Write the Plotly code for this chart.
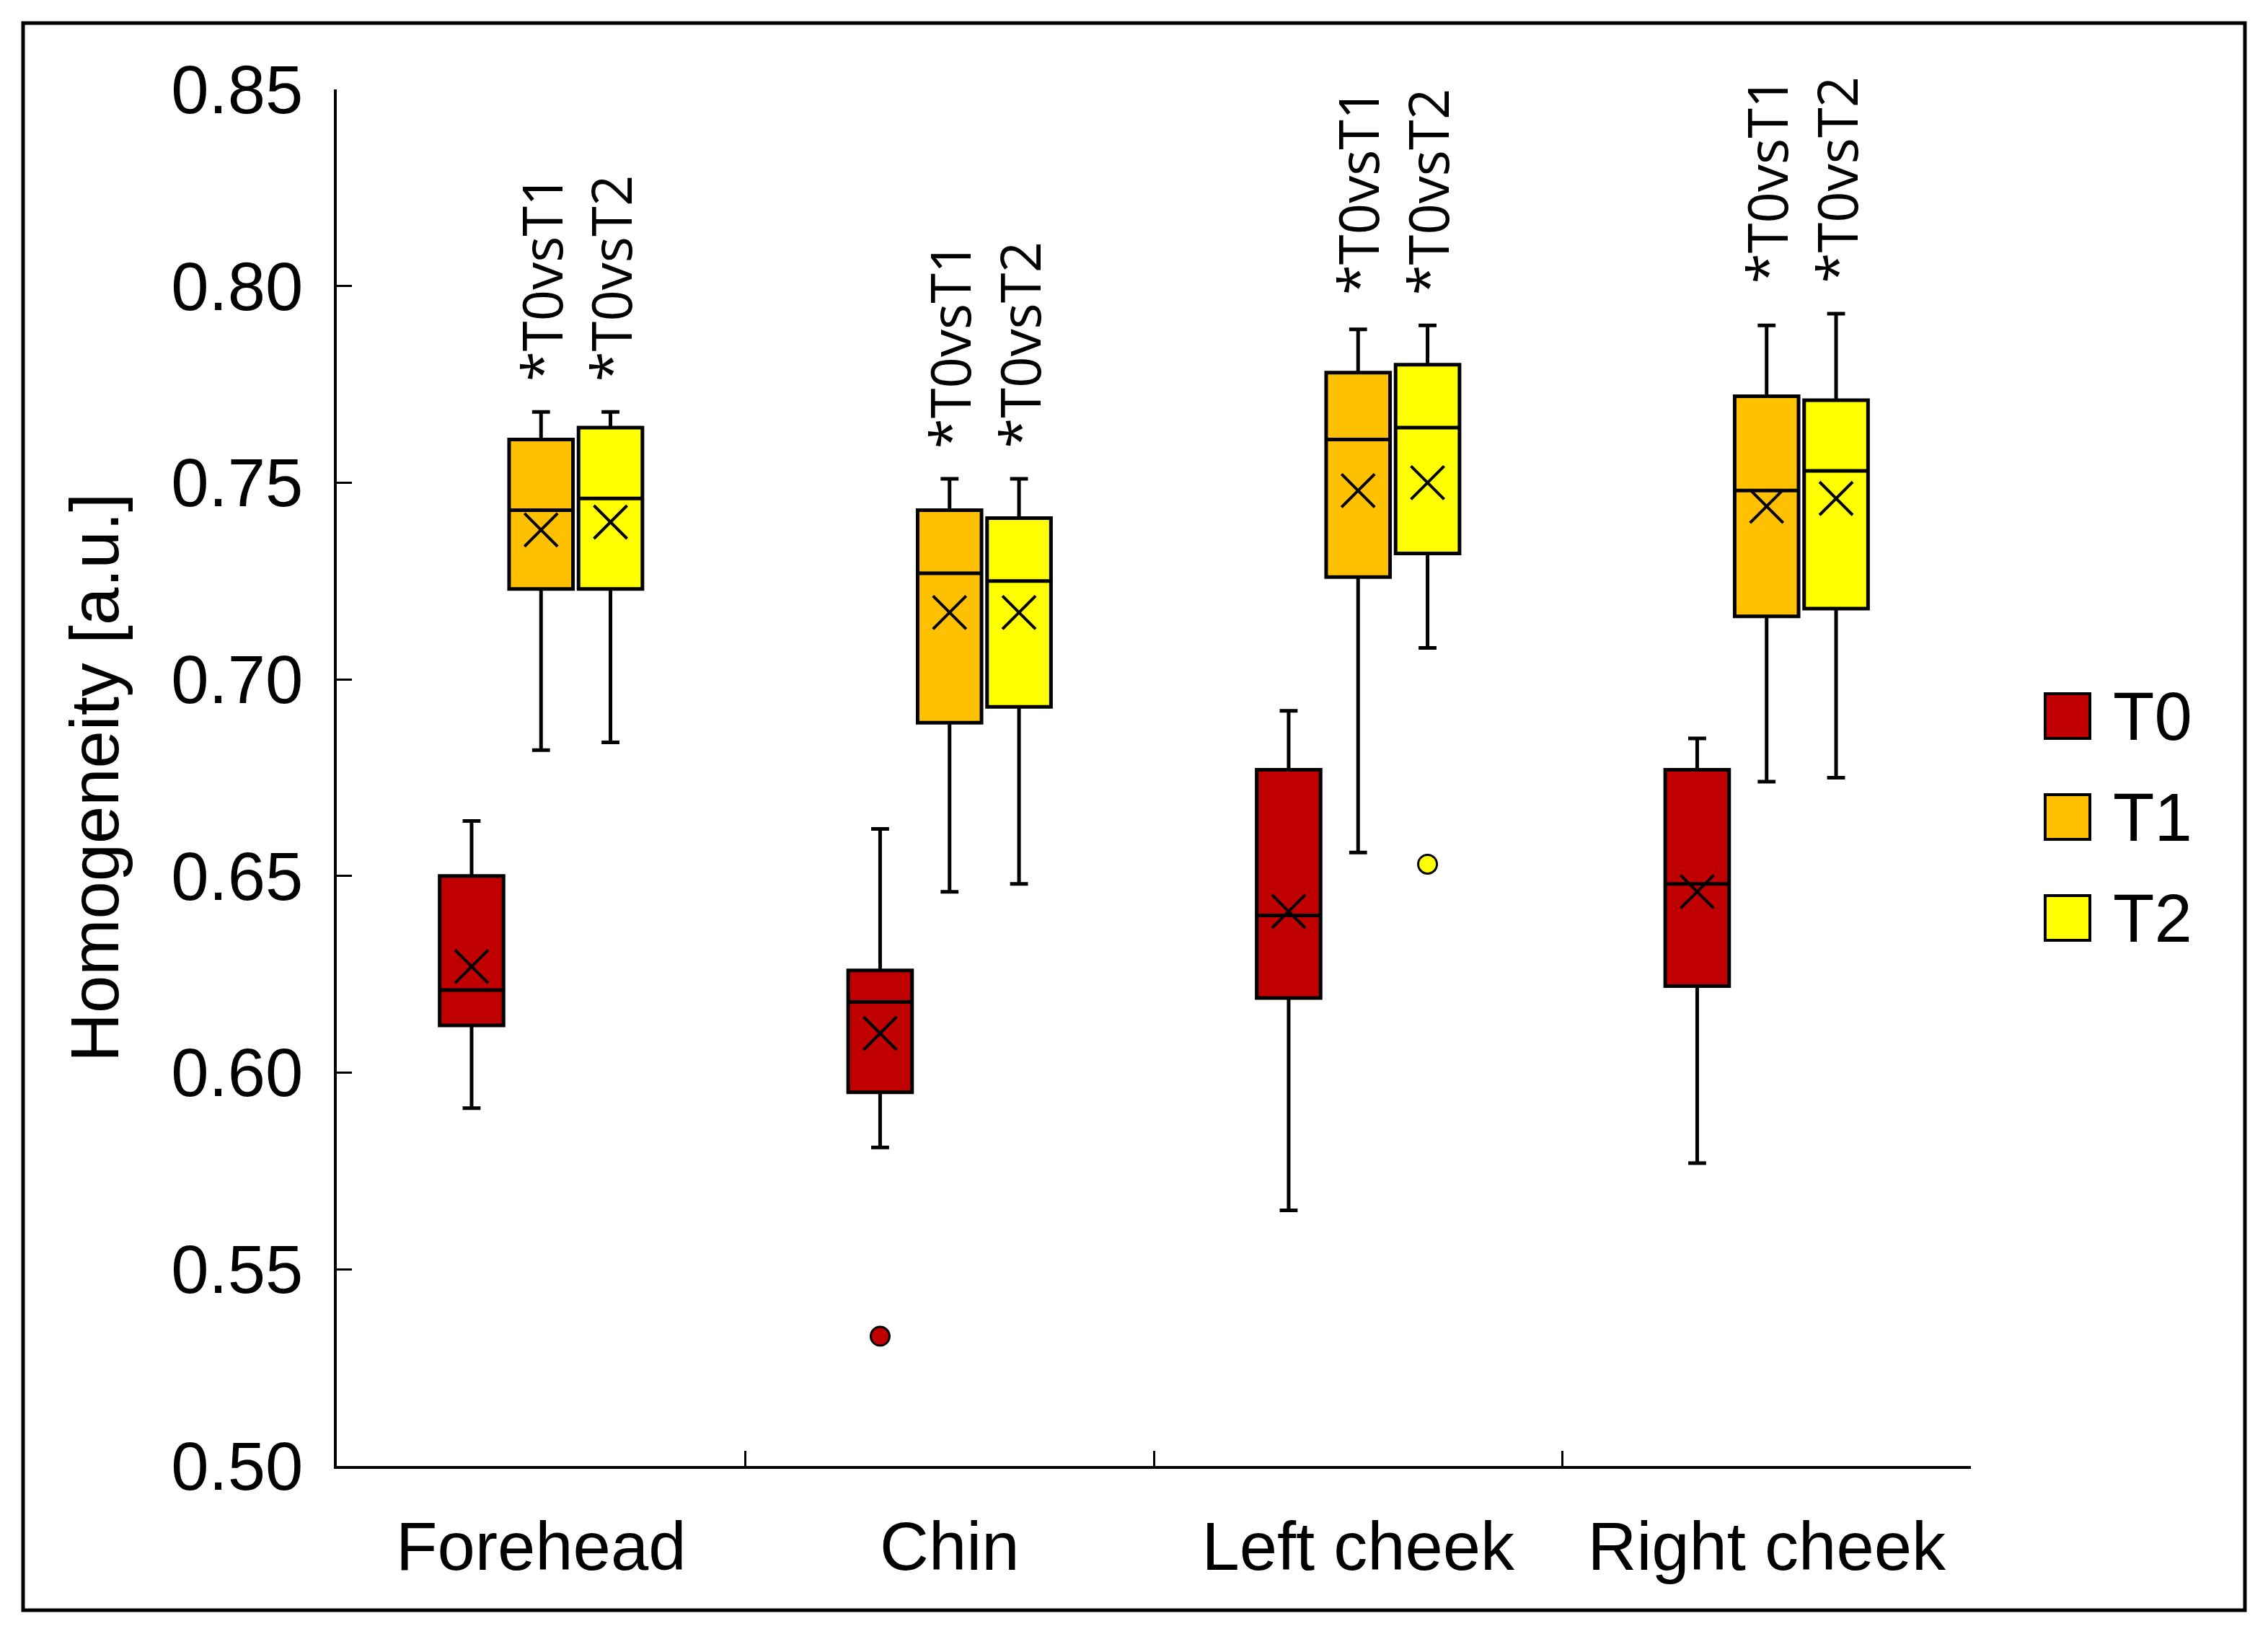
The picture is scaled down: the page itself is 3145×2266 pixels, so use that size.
import plotly.graph_objects as go

# ---------------- data ----------------
categories = ["Forehead", "Chin", "Left cheek", "Right cheek"]
series = ["T0", "T1", "T2"]
colors = ["#C00000", "#FFC000", "#FFFF00"]

t0_lower = [0.591, 0.581, 0.565, 0.577]
t0_q1 = [0.612, 0.595, 0.619, 0.622]
t0_median = [0.621, 0.618, 0.640, 0.648]
t0_q3 = [0.650, 0.626, 0.677, 0.677]
t0_upper = [0.664, 0.662, 0.692, 0.685]
t0_mean = [0.627, 0.610, 0.641, 0.646]

t1_lower = [0.682, 0.646, 0.656, 0.674]
t1_q1 = [0.723, 0.689, 0.726, 0.716]
t1_median = [0.743, 0.727, 0.761, 0.748]
t1_q3 = [0.761, 0.743, 0.778, 0.772]
t1_upper = [0.768, 0.751, 0.789, 0.790]
t1_mean = [0.738, 0.717, 0.748, 0.744]

t2_lower = [0.684, 0.648, 0.708, 0.675]
t2_q1 = [0.723, 0.693, 0.732, 0.718]
t2_median = [0.746, 0.725, 0.764, 0.753]
t2_q3 = [0.764, 0.741, 0.780, 0.771]
t2_upper = [0.768, 0.751, 0.790, 0.793]
t2_mean = [0.740, 0.717, 0.750, 0.746]

t0_outlier_x = ["Chin"]
t0_outlier_y = [0.533]
t1_outlier_x = []
t1_outlier_y = []
t2_outlier_x = ["Left cheek"]
t2_outlier_y = [0.653]

sig_labels = {"T1": "*T0vsT1", "T2": "*T0vsT2"}

y_title = "Homogeneity [a.u.]"
y_ticks = [0.50, 0.55, 0.60, 0.65, 0.70, 0.75, 0.80, 0.85]

stats = {
    "T0": dict(lower=t0_lower, q1=t0_q1, median=t0_median, q3=t0_q3, upper=t0_upper,
               mean=t0_mean, ox=t0_outlier_x, oy=t0_outlier_y),
    "T1": dict(lower=t1_lower, q1=t1_q1, median=t1_median, q3=t1_q3, upper=t1_upper,
               mean=t1_mean, ox=t1_outlier_x, oy=t1_outlier_y),
    "T2": dict(lower=t2_lower, q1=t2_q1, median=t2_median, q3=t2_q3, upper=t2_upper,
               mean=t2_mean, ox=t2_outlier_x, oy=t2_outlier_y),
}

# ---------------- style ----------------
W, H = 3145, 2266
ML, MR, MT, MB = 467, 412, 124, 233
BOXGAP = 0.49
BOXGROUPGAP = 0.08
FONT = "Liberation Sans"
BIG = 94

fig = go.Figure()

for s, c in zip(series, colors):
    d = stats[s]
    fig.add_trace(go.Box(
        name=s, x=categories, q1=d["q1"], median=d["median"], q3=d["q3"],
        lowerfence=d["lower"], upperfence=d["upper"],
        fillcolor=c, line=dict(color="black", width=5), whiskerwidth=0.28,
        offsetgroup=s, boxpoints=False, showlegend=False, hoverinfo="skip",
    ))

for s, c in zip(series, colors):
    d = stats[s]
    fig.add_trace(go.Scatter(
        x=categories, y=d["mean"], mode="markers", offsetgroup=s,
        marker=dict(symbol="x-thin", size=46, color="black",
                    line=dict(color="black", width=4)),
        showlegend=False, hoverinfo="skip",
    ))
    if d["ox"]:
        fig.add_trace(go.Scatter(
            x=d["ox"], y=d["oy"], mode="markers", offsetgroup=s,
            marker=dict(symbol="circle", size=26, color=c,
                        line=dict(color="black", width=3)),
            showlegend=False, hoverinfo="skip",
        ))

# significance labels above T1 / T2 boxes
slot = (1 - BOXGAP) / len(series)
annotations = []
for i, cat in enumerate(categories):
    top = max(stats["T1"]["upper"][i], stats["T2"]["upper"][i])
    for k, s in enumerate(series):
        if s in sig_labels:
            annotations.append(dict(
                x=i + (k - (len(series) - 1) / 2) * slot, xref="x",
                y=top, yref="y", yanchor="bottom", xanchor="center", yshift=40,
                text=sig_labels[s], textangle=-90, showarrow=False,
                font=dict(family="Open Sans", size=76, color="black"),
            ))

# manual legend (large squares)
pw, ph = W - ML - MR, H - MT - MB
def px_x(p):
    return (p - ML) / pw
def px_y(p):
    return (H - MB - p) / ph

shapes = []
leg_x0, leg_size, leg_text_x = 2836, 62, 2928
leg_y0, leg_step = 993, 140
for k, (s, c) in enumerate(zip(series, colors)):
    cy = leg_y0 + k * leg_step
    shapes.append(dict(type="rect", xref="paper", yref="paper",
                       x0=px_x(leg_x0), x1=px_x(leg_x0 + leg_size),
                       y0=px_y(cy + leg_size / 2), y1=px_y(cy - leg_size / 2),
                       fillcolor=c, line=dict(color="black", width=4)))
    annotations.append(dict(x=px_x(leg_text_x), y=px_y(cy), xref="paper", yref="paper",
                            xanchor="left", yanchor="middle", text=s, showarrow=False,
                            font=dict(family=FONT, size=BIG, color="black")))

# outer frame
shapes.append(dict(type="rect", xref="paper", yref="paper",
                   x0=px_x(32), x1=px_x(3113), y0=px_y(2233), y1=px_y(32),
                   line=dict(color="black", width=5), fillcolor="rgba(0,0,0,0)"))

fig.update_layout(
    width=W, height=H,
    margin=dict(l=ML, r=MR, t=MT, b=MB, pad=0),
    paper_bgcolor="white", plot_bgcolor="white",
    font=dict(family=FONT, size=BIG, color="black"),
    boxmode="group", boxgap=BOXGAP, boxgroupgap=BOXGROUPGAP,
    scattermode="group", scattergap=BOXGAP,
    showlegend=False,
    annotations=annotations, shapes=shapes,
    xaxis=dict(type="category", categoryarray=categories, categoryorder="array",
               range=[-0.5, len(categories) - 0.5], tickson="boundaries",
               ticks="inside", ticklen=21, tickwidth=3, tickcolor="black",
               showline=True, linewidth=4, linecolor="black",
               showgrid=False, zeroline=False,
               tickfont=dict(family=FONT, size=BIG, color="black"),
               ticklabelstandoff=27),
    yaxis=dict(range=[y_ticks[0], y_ticks[-1]], tickvals=y_ticks, tickformat=".2f",
               ticks="inside", ticklen=21, tickwidth=3, tickcolor="black",
               showline=True, linewidth=4, linecolor="black",
               showgrid=False, zeroline=False,
               tickfont=dict(family=FONT, size=BIG, color="black"),
               ticklabelstandoff=24,
               title=dict(text=y_title, standoff=42,
                          font=dict(family=FONT, size=BIG, color="black"))),
)

fig.write_html("out.html", config={"displayModeBar": False},
               post_script="document.body.style.margin='0';")
